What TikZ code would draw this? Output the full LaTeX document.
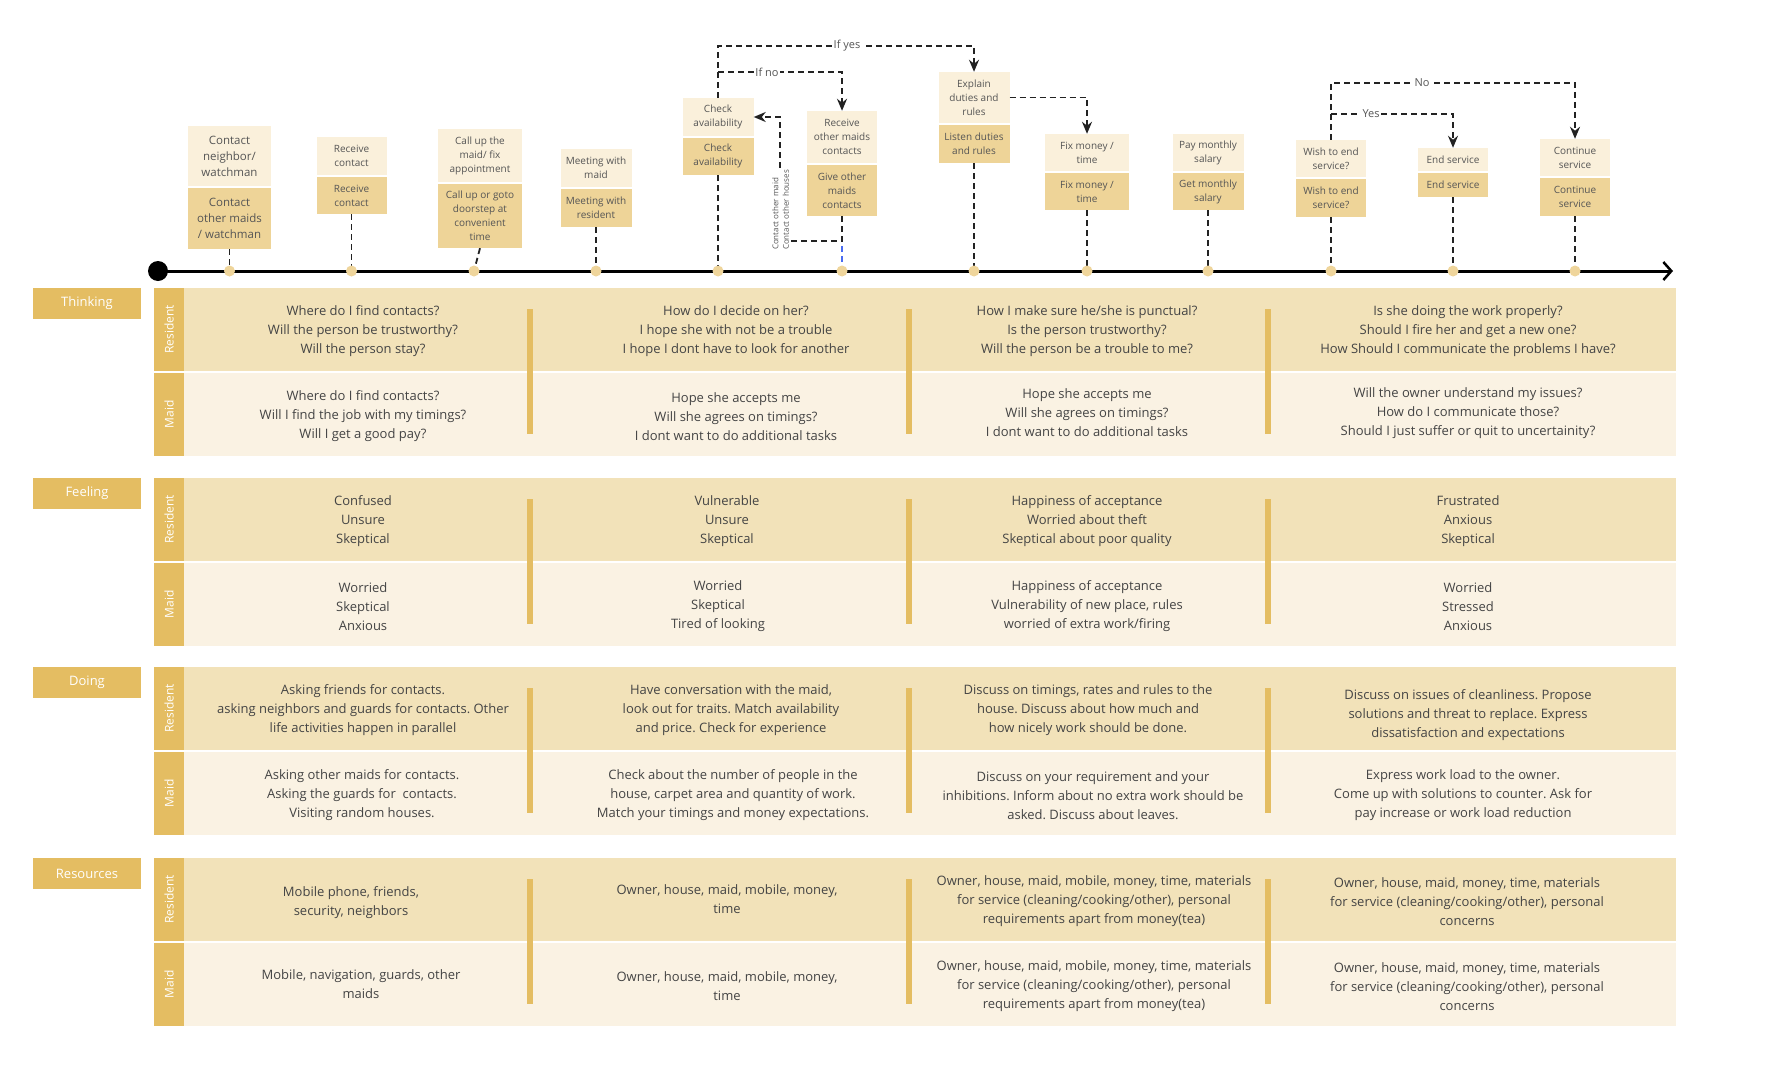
\documentclass[tikz,border=0pt]{standalone}
\usepackage{fontspec}
\setmainfont{Open Sans}
\usetikzlibrary{arrows.meta}
\definecolor{cRes}{HTML}{F2E2B9}
\definecolor{cMaid}{HTML}{FAF2E3}
\definecolor{cGold}{HTML}{E4BD62}
\definecolor{cLight}{HTML}{FAF0DB}
\definecolor{cDark}{HTML}{EED498}
\definecolor{cDot}{HTML}{EFD59B}
\definecolor{cTxt}{HTML}{444444}
\definecolor{cBoxTxt}{HTML}{555555}
\definecolor{cLine}{HTML}{222222}
\definecolor{cBlue}{HTML}{4A6CF0}
\frenchspacing
\begin{document}
\begin{tikzpicture}[x=1pt,y=-1pt,
  lt/.style={fill=cLight, inner sep=0pt, align=center, text=cBoxTxt, font=\fontsize{10}{14}\selectfont},
  dk/.style={lt, fill=cDark},
  cell/.style={align=center, text=cTxt, font=\fontsize{13}{19}\selectfont, inner sep=0pt, yshift=-2pt},
  rowres/.style={fill=cRes, minimum width=1492, minimum height=83, inner sep=0pt},
  rowmaid/.style={fill=cMaid, minimum width=1492, minimum height=83, inner sep=0pt},
  lane/.style={fill=cGold, text=white, rotate=90, minimum width=83, minimum height=30, inner sep=0pt, font=\fontsize{12}{14}\selectfont},
  cat/.style={fill=cGold, text=white, minimum width=108, minimum height=31, inner sep=0pt, font=\fontsize{13}{15}\selectfont},
  sepbar/.style={fill=cGold, minimum width=6, minimum height=125, inner sep=0pt},
  conn/.style={draw=cLine, line width=1.8pt, dash pattern=on 6pt off 4pt},
  arr/.style={conn, -{Stealth[length=12pt,width=10pt]}},
  lbl/.style={fill=white, text=cBoxTxt, font=\fontsize{11}{13}\selectfont, inner sep=1.5pt},
  tdot/.style={circle, fill=cDot, minimum size=11, inner sep=0pt}
]
\useasboundingbox[fill=white] (0,0) rectangle (1784,1076);

% ---------- sections ----------
\foreach \t/\nm/\lab in {288/th/Thinking, 478/fe/Feeling, 667/do/Doing, 858/re/Resources}{
  \node[rowres] (\nm R) at (930,{\t+41.5}) {};
  \node[rowmaid] (\nm M) at (930,{\t+126.5}) {};
  \node[lane] (\nm LR) at (169,{\t+41.5}) {Resident};
  \node[lane] (\nm LM) at (169,{\t+126.5}) {Maid};
  \node[cat] (\nm C) at (87,{\t+15.5}) {\lab};
  \node[sepbar] (\nm S1) at (530,{\t+83.5}) {};
  \node[sepbar] (\nm S2) at (909,{\t+83.5}) {};
  \node[sepbar] (\nm S3) at (1268,{\t+83.5}) {};
}

% ---------- Thinking ----------
\node[cell] (t11) at (363,329.5) {Where do I find contacts?\\Will the person be trustworthy?\\Will the person stay?};
\node[cell] (t12) at (736,329.5) {How do I decide on her?\\I hope she with not be a trouble\\I hope I dont have to look for another};
\node[cell] (t13) at (1087,329.5) {How I make sure he/she is punctual?\\Is the person trustworthy?\\Will the person be a trouble to me?};
\node[cell] (t14) at (1468,329.5) {Is she doing the work properly?\\Should I fire her and get a new one?\\How Should I communicate the problems I have?};
\node[cell] (t21) at (363,414.5) {Where do I find contacts?\\Will I find the job with my timings?\\Will I get a good pay?};
\node[cell] (t22) at (736,414.5) {Hope she accepts me\\Will she agrees on timings?\\I dont want to do additional tasks};
\node[cell] (t23) at (1087,411) {Hope she accepts me\\Will she agrees on timings?\\I dont want to do additional tasks};
\node[cell] (t24) at (1468,411) {Will the owner understand my issues?\\How do I communicate those?\\Should I just suffer or quit to uncertainity?};

% ---------- Feeling ----------
\node[cell] (f11) at (363,519.5) {Confused\\Unsure\\Skeptical};
\node[cell] (f12) at (727,519.5) {Vulnerable\\Unsure\\Skeptical};
\node[cell] (f13) at (1087,519.5) {Happiness of acceptance\\Worried about theft\\Skeptical about poor quality};
\node[cell] (f14) at (1468,519.5) {Frustrated\\Anxious\\Skeptical};
\node[cell] (f21) at (363,604.5) {Worried\\Skeptical\\Anxious};
\node[cell] (f22) at (718,604.5) {Worried\\Skeptical\\Tired of looking};
\node[cell] (f23) at (1087,604.5) {Happiness of acceptance\\Vulnerability of new place, rules\\worried of extra work/firing};
\node[cell] (f24) at (1468,604.5) {Worried\\Stressed\\Anxious};

% ---------- Doing ----------
\node[cell] (d11) at (363,708.5) {Asking friends for contacts.\\ asking neighbors and guards for contacts. Other\\life activities happen in parallel};
\node[cell] (d12) at (731,708.5) {Have conversation with the maid,\\look out for traits. Match availability\\and price. Check for experience};
\node[cell] (d13) at (1088,708.5) {Discuss on timings, rates and rules to the\\house. Discuss about how much and\\how nicely work should be done.};
\node[cell] (d14) at (1468,713) {Discuss on issues of cleanliness. Propose\\solutions and threat to replace. Express\\dissatisfaction and expectations};
\node[cell] (d21) at (362,793.5) {Asking other maids for contacts.\\Asking the guards for\ \ contacts.\\Visiting random houses.};
\node[cell] (d22) at (733,793.5) {Check about the number of people in the\\house, carpet area and quantity of work.\\Match your timings and money expectations.};
\node[cell] (d23) at (1093,793.5) {Discuss on your requirement and your\\inhibitions. Inform about no extra work should be\\asked. Discuss about leaves.};
\node[cell] (d24) at (1463,793.5) {Express work load to the owner.\\Come up with solutions to counter. Ask for\\pay increase or work load reduction};

% ---------- Resources ----------
\node[cell] (r11) at (351,901) {Mobile phone, friends,\\security, neighbors};
\node[cell] (r12) at (727,897) {Owner, house, maid, mobile, money,\\time};
\node[cell] (r13) at (1094,899.5) {Owner, house, maid, mobile, money, time, materials\\for service (cleaning/cooking/other), personal\\requirements apart from money(tea)};
\node[cell] (r14) at (1467,899.5) {Owner, house, maid, money, time, materials\\for service (cleaning/cooking/other), personal\\concerns};
\node[cell] (r21) at (361,982) {Mobile, navigation, guards, other\\maids};
\node[cell] (r22) at (727,984.5) {Owner, house, maid, mobile, money,\\time};
\node[cell] (r23) at (1094,984.5) {Owner, house, maid, mobile, money, time, materials\\for service (cleaning/cooking/other), personal\\requirements apart from money(tea)};
\node[cell] (r24) at (1467,984.5) {Owner, house, maid, money, time, materials\\for service (cleaning/cooking/other), personal\\concerns};

% ---------- top boxes ----------
\node[lt, minimum width=83, minimum height=60, font=\fontsize{11.5}{16}\selectfont] (b1l) at (229.5,156) {Contact\\neighbor/\\watchman};
\node[dk, minimum width=83, minimum height=61, font=\fontsize{11.5}{16}\selectfont] (b1d) at (229.5,218.5) {Contact\\other maids\\/ watchman};
\node[lt, minimum width=70, minimum height=38] (b2l) at (351.5,156) {Receive\\contact};
\node[dk, minimum width=70, minimum height=37] (b2d) at (351.5,195.5) {Receive\\contact};
\node[lt, minimum width=84, minimum height=53] (b3l) at (480,155.5) {Call up the\\maid/ fix\\appointment};
\node[dk, minimum width=84, minimum height=64.5] (b3d) at (480,215.75) {Call up or goto\\doorstep at\\convenient\\time};
\node[lt, minimum width=71, minimum height=38] (b4l) at (596,168) {Meeting with\\maid};
\node[dk, minimum width=71, minimum height=38] (b4d) at (596,208) {Meeting with\\resident};
\node[lt, minimum width=71, minimum height=38] (b5l) at (718,117) {Check\\availability};
\node[dk, minimum width=71, minimum height=37.5] (b5d) at (718,156.25) {Check\\availability};
\node[lt, minimum width=70, minimum height=52] (b6l) at (842,137) {Receive\\other maids\\contacts};
\node[dk, minimum width=70, minimum height=51.5] (b6d) at (842,190.25) {Give other\\maids\\contacts};
\node[lt, minimum width=71, minimum height=51] (b7l) at (974,97.5) {Explain\\duties and\\rules};
\node[dk, minimum width=71, minimum height=38.5] (b7d) at (974,143.75) {Listen duties\\and rules};
\node[lt, minimum width=84, minimum height=37] (b8l) at (1087,152.5) {Fix money /\\time};
\node[dk, minimum width=84, minimum height=37] (b8d) at (1087,191.5) {Fix money /\\time};
\node[lt, minimum width=71, minimum height=37] (b9l) at (1208,152.5) {Pay monthly\\salary};
\node[dk, minimum width=71, minimum height=37] (b9d) at (1208,191.5) {Get monthly\\salary};
\node[lt, minimum width=70, minimum height=37] (b10l) at (1331,158.5) {Wish to end\\service?};
\node[dk, minimum width=70, minimum height=38] (b10d) at (1331,198) {Wish to end\\service?};
\node[lt, minimum width=70, minimum height=23] (b11l) at (1453,159.5) {End service};
\node[dk, minimum width=70, minimum height=24] (b11d) at (1453,185) {End service};
\node[lt, minimum width=70, minimum height=37] (b12l) at (1575,157.5) {Continue\\service};
\node[dk, minimum width=70, minimum height=38] (b12d) at (1575,197) {Continue\\service};

% ---------- timeline ----------
\node[circle, fill=black, minimum size=20, inner sep=0pt] (start) at (158,271) {};
\coordinate (tend) at (1673,271);
\foreach \i/\x in {1/229.5,2/351.5,3/474,4/596,5/718,6/842,7/974,8/1087,9/1208,10/1331,11/1453,12/1575}{
  \coordinate (p\i) at (\x,271);
}
\draw[conn, draw=cBlue] (b6d.south) -- (p6);
\foreach \i in {1,2,3,4,5,7,8,9,10,11,12}{
  \draw[conn] (b\i d.south) -- (p\i);
}
\draw[line width=3pt, -{Straight Barb[length=8pt,width=18pt,line width=2.5pt]}] (start.center) -- (tend);
\foreach \i in {1,...,12}{
  \node[tdot] (dot\i) at (p\i) {};
}

% ---------- decision connectors ----------
\coordinate (ifno) at (718,72);
\draw[arr] (b5l.north) -- ++(0,-52) -| (b7l.north);
\draw[arr] (ifno) -| (b6l.north);
\draw[arr] (b6d.south) |- (780,241) |- (b5l.east);
\draw[arr] (b7l.east) -| (b8l.north);
\coordinate (yesb) at (1331,114);
\draw[arr] (b10l.north) -- ++(0,-57) -| (b12l.north);
\draw[arr] (yesb) -| (b11l.north);

\node[lbl] (lifyes) at (847,46) {If yes};
\node[lbl] (lifno) at (767,72) {If no};
\node[lbl] (lno) at (1422,83) {No};
\node[lbl] (lyes) at (1371,114) {Yes};
\node[fill=white, text=cBoxTxt, rotate=90, align=left, inner sep=1.5pt, font=\fontsize{8}{10.5}\selectfont] (lcontact) at (780.5,210) {Contact other maid\\Contact other houses};
\end{tikzpicture}
\end{document}
